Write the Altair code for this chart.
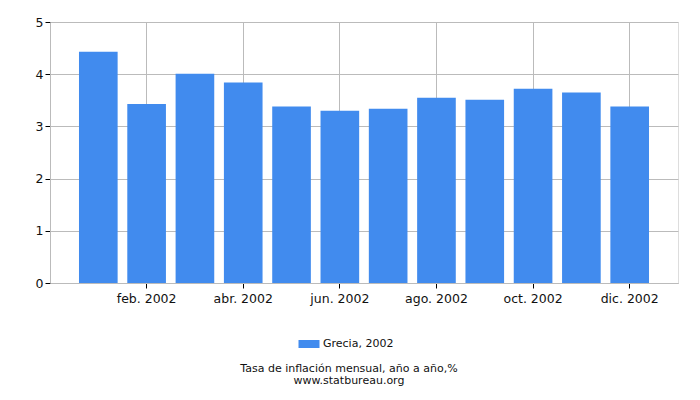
import altair as alt
import pandas as pd

months = ["ene. 2002", "feb. 2002", "mar. 2002", "abr. 2002", "may. 2002", "jun. 2002",
          "jul. 2002", "ago. 2002", "sep. 2002", "oct. 2002", "nov. 2002", "dic. 2002"]
values = [4.43, 3.43, 4.01, 3.84, 3.38, 3.30, 3.34, 3.55, 3.51, 3.72, 3.65, 3.38]
series = ["Grecia, 2002"] * 12
label_months = ["feb. 2002", "abr. 2002", "jun. 2002", "ago. 2002", "oct. 2002", "dic. 2002"]

df = pd.DataFrame({"month": months, "value": values, "series": series})

FONT = "DejaVu Sans"

chart = alt.Chart(df).mark_bar(color="#418BEE").encode(
    x=alt.X("month:O", sort=months, title=None,
            scale=alt.Scale(paddingInner=0.2, paddingOuter=0.6),
            axis=alt.Axis(values=label_months, labelAngle=0, grid=True, bandPosition=0.5,
                          gridColor="#BBBBBB", domainColor="#BBBBBB", tickColor="#000000",
                          tickSize=5, labelFontSize=12.5, labelFont=FONT, labelColor="#111111",
                          labelPadding=4)),
    y=alt.Y("value:Q", title=None,
            scale=alt.Scale(domain=[0, 5]),
            axis=alt.Axis(values=[0, 1, 2, 3, 4, 5], grid=True, gridColor="#BBBBBB",
                          domainColor="#BBBBBB", tickColor="#000000", tickSize=5,
                          labelFontSize=12.5, labelFont=FONT, labelColor="#111111",
                          labelPadding=2)),
    color=alt.Color("series:N", scale=alt.Scale(range=["#418BEE"]),
                    legend=alt.Legend(title=None, orient="none", legendX=249, legendY=312,
                                      symbolType="M-1.05,-0.4H1.05V0.4H-1.05Z",
                                      symbolSize=400, symbolStrokeWidth=0,
                                      labelFont=FONT, labelFontSize=11, labelColor="#111111")),
).properties(
    width=628, height=261,
    padding={"left": 42, "top": 14, "right": 14, "bottom": 110},
    autosize=alt.AutoSizeParams(type="none"),
    title=alt.TitleParams(text=["Tasa de inflación mensual, año a año,%", "www.statbureau.org"],
                          orient="bottom", anchor="middle", font=FONT, fontSize=11,
                          fontWeight="normal", color="#111111", lineHeight=12, offset=14,
                          dx=-15),
).configure_view(stroke="#BBBBBB").configure(background="white")

chart.save("out.html", embed_options={"renderer": "svg", "actions": False})
